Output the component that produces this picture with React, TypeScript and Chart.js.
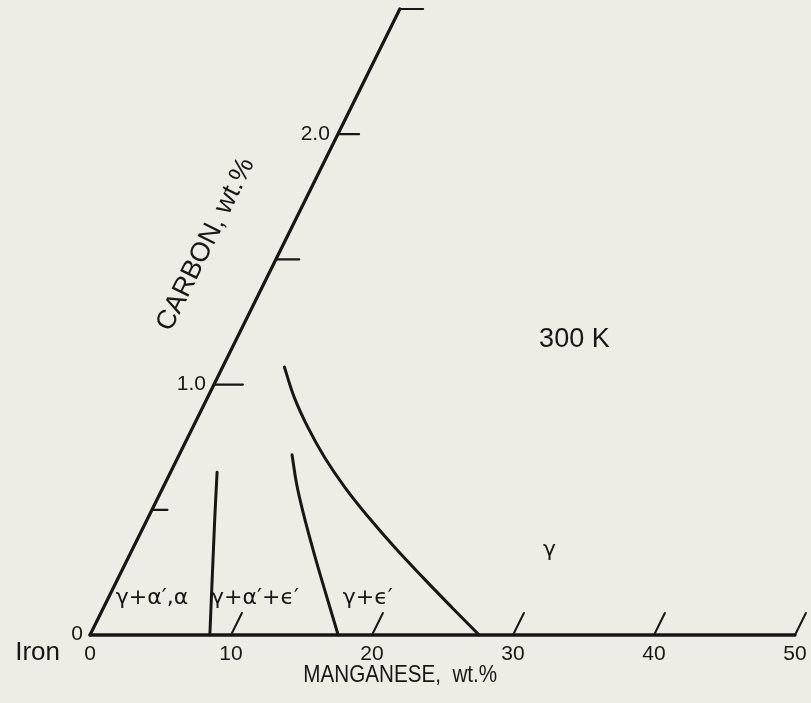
import React, { useEffect, useRef } from "react";
import { Chart, registerables } from "chart.js";

Chart.register(...registerables);

// Manganese axis, wt.%
const MN_TICKS = [0, 10, 20, 30, 40, 50];
const MN_MAX = 50;
// Carbon axis, wt.% (drawn leaning, as the oblique axis of the section)
const C_TICKS = [0.5, 1.0, 1.5, 2.0, 2.5];
const C_TICK_LABELS = ["", "1.0", "", "2.0", ""];
const C_MAX = 2.5;

// Phase boundaries at 300 K, Mn wt.% against C wt.%
const ALPHA_BOUNDARY_MN = [8.5, 4.8, 3.3];
const ALPHA_BOUNDARY_C = [0, 0.46, 0.65];
const EPS_LOWER_MN = [17.6, 15.91, 14.22, 12.56, 10.94, 9.39, 8.0];
const EPS_LOWER_C = [0, 0.12, 0.24, 0.36, 0.48, 0.6, 0.72];
const EPS_UPPER_MN = [27.6, 24.7, 21.58, 18.53, 15.63, 12.89, 10.39, 8.15, 6.13, 4.38];
const EPS_UPPER_C = [0, 0.11, 0.23, 0.35, 0.47, 0.59, 0.71, 0.83, 0.95, 1.07];

// Field names and where they sit (Mn, C)
const FIELD_LABELS = ["γ+α′,α", "γ+α′+ϵ′", "γ+ϵ′", "γ"];
const FIELD_MN = [3.1, 10.4, 18.4, 29.6];
const FIELD_C = [0.148, 0.148, 0.148, 0.34];

// Lean of the carbon axis: Mn units of horizontal shift per 1 wt.% C
const SKEW = 8.79;
// Drawing styles
const INK = "#181715";
const PAPER = "#eeede5";
const C_TICK_LEN = [1.1, 2.05, 1.65, 1.5, 1.65];
const MN_TICK_LEN = 0.088;

type P = { x: number; y: number };
const pt = (mn: number, c: number): P => ({ x: mn + SKEW * c, y: c });
const path = (mn: number[], c: number[]): P[] => mn.map((m, i) => pt(m, c[i]));

const line = (data: P[], width = 3, tension = 0) => ({
  data,
  showLine: true,
  borderColor: INK,
  borderWidth: width,
  pointRadius: 0,
  tension,
  borderCapStyle: "round" as const,
  borderJoinStyle: "round" as const,
});

export default function App() {
  const ref = useRef<HTMLCanvasElement | null>(null);

  useEffect(() => {
    if (!ref.current) return;

    const datasets: any[] = [];
    // Manganese axis line and its leaning ticks
    datasets.push(line([pt(0, 0), pt(MN_MAX, 0)], 3.3));
    MN_TICKS.filter((m) => m > 0).forEach((m) =>
      datasets.push(line([pt(m, 0), pt(m, MN_TICK_LEN)], 2))
    );
    // Carbon axis and its ticks
    datasets.push(line([pt(0, 0), pt(0, C_MAX)], 3.2));
    C_TICKS.forEach((c, i) =>
      datasets.push(line([pt(0, c), { x: pt(0, c).x + C_TICK_LEN[i], y: c }], 2.2))
    );
    // Phase boundaries
    datasets.push(line(path(ALPHA_BOUNDARY_MN, ALPHA_BOUNDARY_C), 3, 0.3));
    datasets.push(line(path(EPS_LOWER_MN, EPS_LOWER_C), 3, 0.4));
    datasets.push(line(path(EPS_UPPER_MN, EPS_UPPER_C), 3, 0.4));

    const paper = {
      id: "paper",
      beforeDraw(chart: any) {
        const ctx = chart.ctx;
        ctx.save();
        ctx.fillStyle = PAPER;
        ctx.fillRect(0, 0, chart.width, chart.height);
        ctx.restore();
      },
    };

    const labels = {
      id: "labels",
      afterDatasetsDraw(chart: any) {
        const ctx = chart.ctx as CanvasRenderingContext2D;
        const sx = chart.scales.x;
        const sy = chart.scales.y;
        const px = (mn: number, c: number) => {
          const q = pt(mn, c);
          return [sx.getPixelForValue(q.x), sy.getPixelForValue(q.y)];
        };
        ctx.save();
        ctx.fillStyle = INK;
        const sans = '"Liberation Sans", Arial, sans-serif';

        // Manganese tick labels
        ctx.font = `21px ${sans}`;
        ctx.textAlign = "center";
        ctx.textBaseline = "middle";
        const y0 = sy.getPixelForValue(0);
        const x0 = sx.getPixelForValue(0);
        MN_TICKS.forEach((m) => {
          ctx.fillText(String(m), sx.getPixelForValue(m), y0 + 19);
        });
        // Origin on the carbon axis and the iron corner
        ctx.textAlign = "right";
        ctx.fillText("0", x0 - 7, y0 - 1);
        ctx.font = `26px ${sans}`;
        ctx.fillText("Iron", x0 - 30, y0 + 18);

        // Carbon tick labels
        ctx.font = `21px ${sans}`;
        C_TICKS.forEach((c, i) => {
          if (!C_TICK_LABELS[i]) return;
          const [x, y] = px(0, c);
          ctx.textAlign = "right";
          ctx.fillText(C_TICK_LABELS[i], x - 8, y);
        });

        // Axis titles
        ctx.textAlign = "center";
        ctx.save();
        ctx.translate(sx.getPixelForValue(22.0), y0 + 40);
        ctx.scale(0.86, 1);
        ctx.font = `24px ${sans}`;
        ctx.fillText("MANGANESE,  wt.%", 0, 0);
        ctx.restore();

        const [ax0, ay0] = px(0, 0);
        const [ax1, ay1] = px(0, C_MAX);
        const ang = Math.atan2(ay1 - ay0, ax1 - ax0);
        const [cx, cy] = px(-5.5, 1.56);
        ctx.save();
        ctx.translate(cx, cy);
        ctx.rotate(ang);
        ctx.font = `27px ${sans}`;
        ctx.fillText("CARBON, wt.%", 0, 0);
        ctx.restore();

        // Temperature of the section
        ctx.font = `27px ${sans}`;
        const [tx, ty] = px(24, 1.178);
        ctx.fillText("300 K", tx, ty);

        // Phase field names
        ctx.font = `22px "DejaVu Sans", sans-serif`;
        FIELD_LABELS.forEach((t, i) => {
          const [lx, ly] = px(FIELD_MN[i], FIELD_C[i]);
          ctx.fillText(t, lx, ly);
        });
        ctx.restore();
      },
    };

    const ppuX = 14.1;
    const ppuY = 250.4;
    const W = 811;
    const H = 703;
    const xMin = -90 / ppuX;
    const yMax = 635 / ppuY;

    const chart = new Chart(ref.current, {
      type: "scatter",
      data: { datasets },
      options: {
        responsive: false,
        animation: false,
        devicePixelRatio: 1,
        layout: { padding: 0 },
        plugins: { legend: { display: false }, tooltip: { enabled: false } },
        scales: {
          x: { type: "linear", display: false, min: xMin, max: xMin + W / ppuX },
          y: { type: "linear", display: false, min: yMax - H / ppuY, max: yMax },
        },
      },
      plugins: [paper, labels],
    });
    return () => chart.destroy();
  }, []);

  return (
    <div style={{ position: "fixed", left: 0, top: 0, width: 811, height: 703 }}>
      <canvas ref={ref} width={811} height={703} />
    </div>
  );
}
